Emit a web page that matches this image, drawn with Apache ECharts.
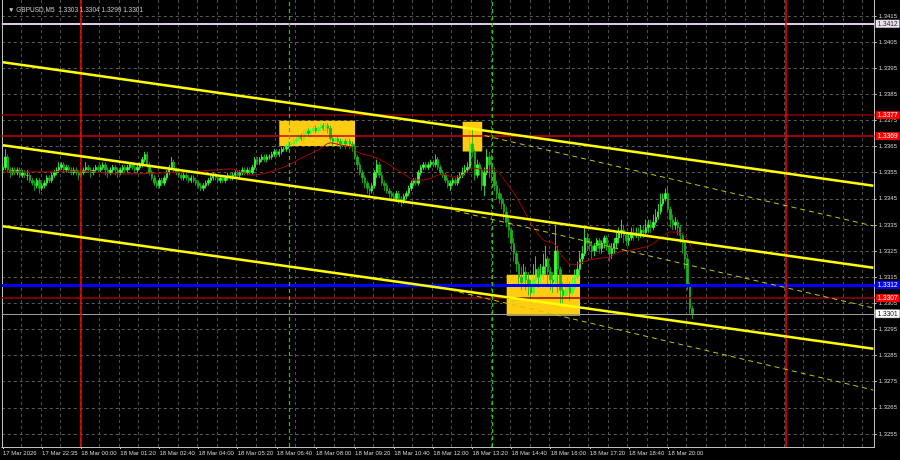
<!DOCTYPE html>
<html>
<head>
<meta charset="utf-8">
<script src="https://cdn.jsdelivr.net/npm/echarts@6/dist/echarts.min.js"></script>
<style>html,body{margin:0;padding:0;background:#000;}#c{width:900px;height:460px;}</style>
</head>
<body>
<div id="c"></div>
<script>
// ---- data ----
const barCount = 357; // 5-minute slots shown on the time axis (incl. empty future slots)
const tickBars = [0,16,32,48,64,80,96,112,128,144,160,176,192,208,224,240,256,272];
const tickLabels = ["17 Mar 2026","17 Mar 22:35","18 Mar 00:00","18 Mar 01:20","18 Mar 02:40","18 Mar 04:00","18 Mar 05:20","18 Mar 06:40","18 Mar 08:00","18 Mar 09:20","18 Mar 10:40","18 Mar 12:00","18 Mar 13:20","18 Mar 14:40","18 Mar 16:00","18 Mar 17:20","18 Mar 18:40","18 Mar 20:00"];
const priceTicks = [1.3255,1.3265,1.3275,1.3285,1.3295,1.3305,1.3315,1.3325,1.3335,1.3345,1.3355,1.3365,1.3375,1.3385,1.3395,1.3405,1.3415];

const opens = [1.3356,1.3357,1.3361,1.3356,1.3355,1.3356,1.3355,1.3356,1.3354,1.3355,
1.3354,1.3354,1.3352,1.3351,1.3350,1.3352,1.3349,1.3350,1.3351,1.3353,
1.3352,1.3354,1.3355,1.3356,1.3357,1.3358,1.3356,1.3357,1.3356,1.3355,
1.3356,1.3355,1.3354,1.3355,1.3356,1.3357,1.3356,1.3355,1.3356,1.3357,
1.3356,1.3357,1.3358,1.3356,1.3355,1.3356,1.3357,1.3356,1.3355,1.3356,
1.3357,1.3356,1.3357,1.3358,1.3357,1.3356,1.3357,1.3358,1.3360,1.3362,
1.3358,1.3355,1.3353,1.3351,1.3350,1.3352,1.3351,1.3353,1.3355,1.3357,
1.3359,1.3356,1.3355,1.3354,1.3353,1.3354,1.3353,1.3352,1.3353,1.3352,
1.3351,1.3350,1.3349,1.3350,1.3351,1.3352,1.3353,1.3354,1.3353,1.3352,
1.3353,1.3352,1.3353,1.3354,1.3353,1.3354,1.3355,1.3354,1.3355,1.3356,
1.3355,1.3356,1.3355,1.3357,1.3360,1.3359,1.3360,1.3361,1.3360,1.3361,
1.3361,1.3362,1.3363,1.3362,1.3363,1.3364,1.3364,1.3365,1.3366,1.3366,
1.3367,1.3368,1.3369,1.3368,1.3370,1.3371,1.3370,1.3371,1.3372,1.3371,
1.3372,1.3373,1.3372,1.3373,1.3372,1.3368,1.3367,1.3368,1.3367,1.3366,
1.3367,1.3366,1.3367,1.3366,1.3365,1.3361,1.3358,1.3355,1.3353,1.3351,
1.3349,1.3348,1.3350,1.3355,1.3358,1.3354,1.3351,1.3350,1.3348,1.3347,
1.3346,1.3345,1.3347,1.3345,1.3344,1.3346,1.3347,1.3349,1.3351,1.3352,
1.3351,1.3355,1.3357,1.3358,1.3357,1.3358,1.3359,1.3358,1.3360,1.3357,
1.3355,1.3354,1.3352,1.3350,1.3351,1.3352,1.3351,1.3353,1.3354,1.3355,
1.3356,1.3357,1.3366,1.3363,1.3354,1.3358,1.3356,1.3350,1.3355,1.3361,
1.3358,1.3355,1.3350,1.3347,1.3345,1.3343,1.3340,1.3336,1.3333,1.3328,
1.3324,1.3320,1.3315,1.3313,1.3317,1.3314,1.3312,1.3309,1.3314,1.3318,
1.3315,1.3316,1.3319,1.3322,1.3317,1.3314,1.3313,1.3325,1.3318,1.3310,
1.3308,1.3310,1.3312,1.3309,1.3311,1.3315,1.3318,1.3322,1.3324,1.3330,
1.3328,1.3327,1.3325,1.3327,1.3329,1.3326,1.3328,1.3330,1.3327,1.3324,
1.3326,1.3328,1.3330,1.3332,1.3333,1.3331,1.3329,1.3330,1.3332,1.3331,
1.3332,1.3331,1.3333,1.3332,1.3334,1.3335,1.3334,1.3336,1.3338,1.3340,
1.3343,1.3345,1.3347,1.3341,1.3337,1.3335,1.3336,1.3334,1.3331,1.3328,
1.3322,1.3312,1.3303];

const highs = [1.3358,1.3364,1.3362,1.3357,1.3357,1.3357,1.3357,1.3357,1.3356,1.3356,
1.3356,1.3355,1.3353,1.3352,1.3353,1.3353,1.3351,1.3352,1.3354,1.3354,
1.3355,1.3356,1.3357,1.3359,1.3359,1.3359,1.3358,1.3358,1.3357,1.3357,
1.3357,1.3356,1.3356,1.3357,1.3359,1.3358,1.3357,1.3357,1.3358,1.3358,
1.3358,1.3359,1.3359,1.3357,1.3357,1.3358,1.3358,1.3357,1.3357,1.3358,
1.3358,1.3358,1.3359,1.3359,1.3358,1.3358,1.3359,1.3361,1.3363,1.3363,
1.3359,1.3356,1.3354,1.3352,1.3353,1.3353,1.3354,1.3356,1.3358,1.3361,
1.3360,1.3357,1.3356,1.3355,1.3355,1.3355,1.3354,1.3354,1.3354,1.3353,
1.3352,1.3351,1.3351,1.3352,1.3353,1.3354,1.3355,1.3355,1.3354,1.3354,
1.3354,1.3354,1.3355,1.3355,1.3355,1.3356,1.3356,1.3356,1.3357,1.3357,
1.3357,1.3357,1.3358,1.3361,1.3361,1.3361,1.3362,1.3362,1.3362,1.3362,
1.3363,1.3364,1.3364,1.3364,1.3365,1.3365,1.3366,1.3367,1.3367,1.3369,
1.3369,1.3370,1.3370,1.3371,1.3372,1.3372,1.3372,1.3373,1.3373,1.3373,
1.3374,1.3374,1.3374,1.3374,1.3373,1.3369,1.3369,1.3369,1.3368,1.3368,
1.3368,1.3368,1.3368,1.3367,1.3366,1.3362,1.3359,1.3356,1.3354,1.3352,
1.3350,1.3351,1.3356,1.3360,1.3359,1.3355,1.3352,1.3351,1.3349,1.3348,
1.3347,1.3348,1.3348,1.3346,1.3347,1.3348,1.3350,1.3352,1.3353,1.3353,
1.3356,1.3358,1.3359,1.3359,1.3359,1.3360,1.3360,1.3362,1.3361,1.3358,
1.3356,1.3355,1.3353,1.3352,1.3353,1.3353,1.3354,1.3355,1.3357,1.3358,
1.3359,1.3371,1.3372,1.3364,1.3360,1.3359,1.3357,1.3357,1.3364,1.3363,
1.3362,1.3357,1.3352,1.3349,1.3347,1.3345,1.3342,1.3338,1.3334,1.3330,
1.3325,1.3321,1.3319,1.3320,1.3319,1.3317,1.3314,1.3320,1.3323,1.3319,
1.3320,1.3324,1.3327,1.3323,1.3319,1.3317,1.3335,1.3327,1.3319,1.3313,
1.3313,1.3315,1.3313,1.3315,1.3318,1.3321,1.3325,1.3327,1.3334,1.3332,
1.3330,1.3329,1.3328,1.3330,1.3330,1.3329,1.3331,1.3331,1.3328,1.3328,
1.3330,1.3332,1.3334,1.3337,1.3335,1.3332,1.3332,1.3334,1.3334,1.3334,
1.3334,1.3335,1.3335,1.3337,1.3337,1.3337,1.3339,1.3341,1.3343,1.3347,
1.3347,1.3349,1.3350,1.3342,1.3339,1.3338,1.3337,1.3335,1.3332,1.3329,
1.3324,1.3313,1.3304];

const lows = [1.3355,1.3356,1.3355,1.3353,1.3354,1.3354,1.3354,1.3353,1.3353,1.3353,
1.3352,1.3351,1.3350,1.3348,1.3349,1.3347,1.3348,1.3349,1.3350,1.3351,
1.3351,1.3353,1.3354,1.3355,1.3356,1.3355,1.3355,1.3355,1.3354,1.3354,
1.3354,1.3352,1.3353,1.3354,1.3355,1.3355,1.3353,1.3354,1.3355,1.3355,
1.3355,1.3356,1.3354,1.3353,1.3354,1.3355,1.3354,1.3353,1.3354,1.3355,
1.3355,1.3355,1.3356,1.3356,1.3355,1.3355,1.3356,1.3357,1.3359,1.3357,
1.3354,1.3352,1.3350,1.3349,1.3349,1.3350,1.3350,1.3352,1.3354,1.3356,
1.3355,1.3354,1.3353,1.3352,1.3352,1.3352,1.3351,1.3351,1.3351,1.3350,
1.3349,1.3348,1.3348,1.3349,1.3350,1.3351,1.3352,1.3352,1.3351,1.3351,
1.3351,1.3351,1.3352,1.3352,1.3352,1.3353,1.3353,1.3353,1.3354,1.3354,
1.3354,1.3354,1.3354,1.3356,1.3358,1.3358,1.3359,1.3359,1.3359,1.3360,
1.3360,1.3361,1.3361,1.3361,1.3362,1.3363,1.3363,1.3364,1.3365,1.3365,
1.3366,1.3367,1.3367,1.3367,1.3369,1.3369,1.3369,1.3370,1.3370,1.3370,
1.3371,1.3371,1.3371,1.3370,1.3367,1.3365,1.3366,1.3365,1.3364,1.3365,
1.3364,1.3365,1.3364,1.3363,1.3360,1.3356,1.3354,1.3351,1.3349,1.3347,
1.3346,1.3347,1.3349,1.3353,1.3353,1.3350,1.3348,1.3347,1.3345,1.3344,
1.3344,1.3344,1.3343,1.3342,1.3343,1.3345,1.3346,1.3348,1.3350,1.3350,
1.3350,1.3354,1.3356,1.3356,1.3356,1.3357,1.3357,1.3357,1.3356,1.3354,
1.3353,1.3351,1.3349,1.3348,1.3350,1.3350,1.3350,1.3352,1.3353,1.3354,
1.3355,1.3356,1.3361,1.3352,1.3353,1.3354,1.3348,1.3346,1.3354,1.3353,
1.3351,1.3348,1.3345,1.3343,1.3341,1.3337,1.3334,1.3330,1.3325,1.3321,
1.3317,1.3312,1.3310,1.3311,1.3310,1.3308,1.3306,1.3308,1.3312,1.3311,
1.3312,1.3314,1.3316,1.3312,1.3310,1.3309,1.3312,1.3309,1.3304,1.3305,
1.3306,1.3308,1.3306,1.3308,1.3310,1.3314,1.3316,1.3320,1.3323,1.3325,
1.3325,1.3322,1.3323,1.3325,1.3324,1.3324,1.3326,1.3325,1.3321,1.3322,
1.3324,1.3326,1.3328,1.3330,1.3328,1.3327,1.3327,1.3329,1.3329,1.3330,
1.3329,1.3330,1.3330,1.3331,1.3332,1.3332,1.3333,1.3335,1.3337,1.3339,
1.3342,1.3344,1.3340,1.3334,1.3333,1.3333,1.3331,1.3328,1.3324,1.3318,
1.3310,1.3301,1.3299];

const closes = [1.3357,1.3361,1.3356,1.3355,1.3356,1.3355,1.3356,1.3354,1.3355,1.3354,
1.3354,1.3352,1.3351,1.3350,1.3352,1.3349,1.3350,1.3351,1.3353,1.3352,
1.3354,1.3355,1.3356,1.3357,1.3358,1.3356,1.3357,1.3356,1.3355,1.3356,
1.3355,1.3354,1.3355,1.3356,1.3357,1.3356,1.3355,1.3356,1.3357,1.3356,
1.3357,1.3358,1.3356,1.3355,1.3356,1.3357,1.3356,1.3355,1.3356,1.3357,
1.3356,1.3357,1.3358,1.3357,1.3356,1.3357,1.3358,1.3360,1.3362,1.3358,
1.3355,1.3353,1.3351,1.3350,1.3352,1.3351,1.3353,1.3355,1.3357,1.3359,
1.3356,1.3355,1.3354,1.3353,1.3354,1.3353,1.3352,1.3353,1.3352,1.3351,
1.3350,1.3349,1.3350,1.3351,1.3352,1.3353,1.3354,1.3353,1.3352,1.3353,
1.3352,1.3353,1.3354,1.3353,1.3354,1.3355,1.3354,1.3355,1.3356,1.3355,
1.3356,1.3355,1.3357,1.3360,1.3359,1.3360,1.3361,1.3360,1.3361,1.3361,
1.3362,1.3363,1.3362,1.3363,1.3364,1.3364,1.3365,1.3366,1.3366,1.3367,
1.3368,1.3369,1.3368,1.3370,1.3371,1.3370,1.3371,1.3372,1.3371,1.3372,
1.3373,1.3372,1.3373,1.3372,1.3368,1.3367,1.3368,1.3367,1.3366,1.3367,
1.3366,1.3367,1.3366,1.3365,1.3361,1.3358,1.3355,1.3353,1.3351,1.3349,
1.3348,1.3350,1.3355,1.3358,1.3354,1.3351,1.3350,1.3348,1.3347,1.3346,
1.3345,1.3347,1.3345,1.3344,1.3346,1.3347,1.3349,1.3351,1.3352,1.3351,
1.3355,1.3357,1.3358,1.3357,1.3358,1.3359,1.3358,1.3360,1.3357,1.3355,
1.3354,1.3352,1.3350,1.3351,1.3352,1.3351,1.3353,1.3354,1.3355,1.3356,
1.3357,1.3366,1.3363,1.3354,1.3358,1.3356,1.3350,1.3355,1.3361,1.3358,
1.3355,1.3350,1.3347,1.3345,1.3343,1.3340,1.3336,1.3333,1.3328,1.3324,
1.3320,1.3315,1.3313,1.3317,1.3314,1.3312,1.3309,1.3314,1.3318,1.3315,
1.3316,1.3319,1.3322,1.3317,1.3314,1.3313,1.3325,1.3318,1.3310,1.3308,
1.3310,1.3312,1.3309,1.3311,1.3315,1.3318,1.3322,1.3324,1.3330,1.3328,
1.3327,1.3325,1.3327,1.3329,1.3326,1.3328,1.3330,1.3327,1.3324,1.3326,
1.3328,1.3330,1.3332,1.3333,1.3331,1.3329,1.3330,1.3332,1.3331,1.3332,
1.3331,1.3333,1.3332,1.3334,1.3335,1.3334,1.3336,1.3338,1.3340,1.3343,
1.3345,1.3347,1.3341,1.3337,1.3335,1.3336,1.3334,1.3331,1.3328,1.3322,
1.3312,1.3303,1.3301];

// moving average, read at sample bars
const maBars = [0,16,32,48,65,81,93,102,115,122,129,134,138,142,146,152,156,160,166,168,172,178,180,184,188,192,197,201,205,210,216,221,225,229,233,236,240,244,248,252,257,261,265,269,273,277,280,282];
const maValues = [1.33553,1.33553,1.33556,1.33545,1.33549,1.33556,1.33564,1.33541,1.33572,1.33606,1.33637,1.33664,1.33656,1.33648,1.33625,1.33610,1.33591,1.33568,1.33533,1.33522,1.33522,1.33541,1.33545,1.33533,1.33541,1.33568,1.33560,1.33560,1.33522,1.33457,1.33357,1.33292,1.33281,1.33227,1.33197,1.33204,1.33216,1.33223,1.33227,1.33246,1.33254,1.33262,1.33273,1.33300,1.33323,1.33320,1.33292,1.33254];

// trend channels: [startBar, startPrice, endBar, endPrice]
const channelSolid = [[0,1.33973,356,1.33500],[0,1.33655,356,1.33186],[0,1.33345,356,1.32876]];
const channelDashed = [[197,1.33692,356,1.33346],[185,1.33404,356,1.33032],[183,1.33101,356,1.32718]];

// highlighted zones: [fromBar, toBar, topPrice, bottomPrice]
const zones = [[113,144,1.33749,1.33652],[188,196,1.33745,1.33631],[206,236,1.33159,1.33002]];

// horizontal price levels
const levelPrices = [1.3412, 1.3377, 1.3369, 1.3312, 1.3307, 1.3301];
const levelLabels = ["1.3412","1.3377","1.3369","1.3312","1.3307","1.3301"];

// vertical markers (bars)
const dayBars = [32, 320];
const sessionBars = [117, 200];

const titleText = "\u25BC GBPUSD,M5  1.3303 1.3304 1.3299 1.3301";

// ---- styles ----
const levelStyles = [
  {line:'#dccbe6', w:2, bg:'#e8e2f0', fg:'#202020'},
  {line:'#8b0000', w:1.5, bg:'#ff0000', fg:'#ffffff'},
  {line:'#d00000', w:1.5, bg:'#ff0000', fg:'#ffffff'},
  {line:'#0000ff', w:3, bg:'#0000ff', fg:'#ffffff'},
  {line:'#a00000', w:1.5, bg:'#ff0000', fg:'#ffffff'},
  {line:'#9a9a9a', w:1, bg:'#ffffff', fg:'#000000'}
];

const categories = [];
for (let i = 0; i < barCount; i++) categories.push(String(i));

const candleData = closes.map((c, i) => [opens[i], c, lows[i], highs[i]]);
const maData = maBars.map((b, i) => [b, maValues[i]]);

const levelLines = [];
levelPrices.forEach((p, i) => {
  const s = levelStyles[i];
  levelLines.push({
    yAxis: p,
    lineStyle: {color: s.line, width: s.w, type: 'solid'},
    label: {show: true, position: 'end', formatter: levelLabels[i], distance: 1,
      backgroundColor: s.bg, color: s.fg, fontSize: 6.5, padding: [1, 2, 0, 2],
      borderColor: i === 5 ? '#808080' : s.bg, borderWidth: i === 5 ? 0.5 : 0,
      fontFamily: 'Liberation Sans, Arial, sans-serif'}
  });
});
dayBars.forEach(b => levelLines.push({xAxis: b, lineStyle: {color: '#ff0000', width: 1.5, type: 'solid'}, label: {show: false}}));
sessionBars.forEach(b => levelLines.push({xAxis: b, lineStyle: {color: '#33c000', width: 1.2, type: [4, 3]}, label: {show: false}}));

const gridLines = priceTicks.map(v => ({yAxis: v}));

const markAreaData = zones.map(z => [{xAxis: z[0], yAxis: z[2]}, {xAxis: z[1], yAxis: z[3]}]);

const series = [
  {
    type: 'candlestick',
    data: candleData,
    barWidth: 1.9,
    z: 3,
    itemStyle: {color: '#3cff3c', color0: '#18b418', borderColor: '#3cff3c', borderColor0: '#18b418', borderWidth: 0.8}
  },
  {
    type: 'line', data: maData, showSymbol: false, symbol: 'none', smooth: 0.35, z: 4,
    lineStyle: {color: '#b40000', width: 1}, silent: true,
    markLine: {silent: true, symbol: 'none', animation: false, precision: 6, data: levelLines, z: 5}
  }
];
channelSolid.forEach((l, k) => {
  const s = {
    type: 'line', data: [[l[0], l[1]], [l[2], l[3]]], symbol: 'none', z: 6, silent: true,
    lineStyle: {color: '#ffff00', width: 2.5}
  };
  if (k === 0) {
    s.markArea = {silent: true, itemStyle: {color: '#ffcc14', opacity: 1}, data: markAreaData, z: 1};
    s.markLine = {silent: true, symbol: 'none', animation: false, precision: 6, data: gridLines, z: 0,
      lineStyle: {color: '#5a5a5a', width: 1, type: [3, 3]}, label: {show: false}};
  }
  series.push(s);
});
channelDashed.forEach(l => series.push({
  type: 'line', data: [[l[0], l[1]], [l[2], l[3]]], symbol: 'none', z: 6, silent: true,
  lineStyle: {color: '#c8c800', width: 1, type: [5, 4]}
}));

const chart = echarts.init(document.getElementById('c'), null, {renderer: 'canvas'});
chart.setOption({
  backgroundColor: '#000000',
  animation: false,
  textStyle: {fontFamily: 'Liberation Sans, Arial, DejaVu Sans, sans-serif'},
  title: {text: titleText, left: 3, top: 2,
    textStyle: {color: '#c8c8c8', fontSize: 6.5, fontWeight: 'normal', fontFamily: 'Liberation Sans, DejaVu Sans, sans-serif'}},
  grid: {left: 0, right: 25, top: 0, bottom: 13, containLabel: false},
  xAxis: {
    type: 'category', data: categories, boundaryGap: true,
    axisLine: {show: true, lineStyle: {color: '#c0c0c0', width: 1}},
    axisTick: {show: true, alignWithLabel: true, length: 2, interval: (i) => tickBars.indexOf(i) >= 0, lineStyle: {color: '#c0c0c0'}},
    axisLabel: {interval: (i) => tickBars.indexOf(i) >= 0,
      formatter: (v, i) => { const k = tickBars.indexOf(i); return k >= 0 ? tickLabels[k] : ''; },
      color: '#c8c8c8', fontSize: 6, align: 'left', margin: 3},
    splitLine: {show: true, interval: (i) => i % 8 === 0, lineStyle: {color: '#4e4e4e', type: [3, 3], width: 1}}
  },
  yAxis: [{
    type: 'value', position: 'right', min: 1.3250, max: 1.34211,
    axisLine: {show: true, lineStyle: {color: '#c0c0c0'}},
    axisTick: {show: true, length: 2, customValues: priceTicks, lineStyle: {color: '#c0c0c0'}},
    axisLabel: {customValues: priceTicks, formatter: (v) => v.toFixed(4), color: '#c8c8c8', fontSize: 6, margin: 4},
    splitLine: {show: false}
  }, {
    type: 'value', position: 'left', min: 1.3250, max: 1.34211,
    axisLine: {show: true, lineStyle: {color: '#c0c0c0'}},
    axisTick: {show: false}, axisLabel: {show: false}, splitLine: {show: false}
  }],
  series: series
});
</script>
</body>
</html>
